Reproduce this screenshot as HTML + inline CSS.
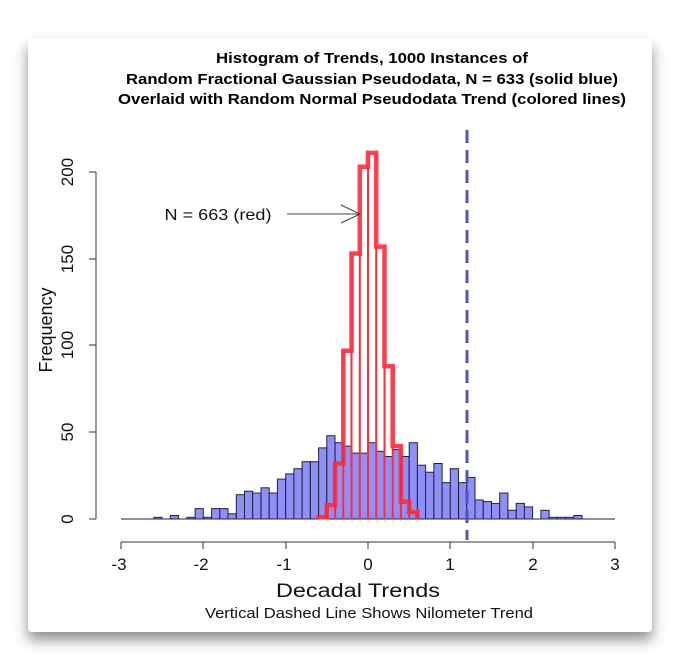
<!DOCTYPE html>
<html><head><style>
html,body{margin:0;padding:0;background:#fff;width:681px;height:667px;overflow:hidden}
</style></head><body>
<svg width="681" height="667" xmlns="http://www.w3.org/2000/svg" font-family="Liberation Sans, Arial, sans-serif">
<defs>
<filter id="sh" x="-10%" y="-10%" width="120%" height="125%">
<feDropShadow dx="0" dy="8" stdDeviation="7" flood-color="#000" flood-opacity="0.45"/>
</filter>
</defs>
<rect x="28" y="38" width="624" height="594" rx="4" fill="#fff" filter="url(#sh)"/>
<g text-anchor="middle" font-weight="bold" font-size="15" fill="#000" lengthAdjust="spacingAndGlyphs">
<text x="372" y="63" textLength="312" lengthAdjust="spacingAndGlyphs">Histogram of Trends, 1000 Instances of</text>
<text x="372" y="84" textLength="492" lengthAdjust="spacingAndGlyphs">Random Fractional Gaussian Pseudodata, N = 633 (solid blue)</text>
<text x="372" y="104" textLength="508" lengthAdjust="spacingAndGlyphs">Overlaid with Random Normal Pseudodata Trend (colored lines)</text>
</g>
<line x1="121" y1="519" x2="615" y2="519" stroke="#222244" stroke-width="1"/>
<g fill="#8f8ff5" stroke="#222244" stroke-width="1">
<rect x="153.9" y="517.3" width="8.2" height="1.7"/>
<rect x="170.4" y="515.5" width="8.2" height="3.5"/>
<rect x="186.9" y="517.3" width="8.2" height="1.7"/>
<rect x="195.1" y="508.6" width="8.2" height="10.4"/>
<rect x="203.3" y="517.3" width="8.2" height="1.7"/>
<rect x="211.6" y="508.6" width="8.2" height="10.4"/>
<rect x="219.8" y="508.6" width="8.2" height="10.4"/>
<rect x="228.0" y="513.8" width="8.2" height="5.2"/>
<rect x="236.3" y="494.7" width="8.2" height="24.3"/>
<rect x="244.5" y="491.2" width="8.2" height="27.8"/>
<rect x="252.7" y="493.0" width="8.2" height="26.0"/>
<rect x="261.0" y="487.8" width="8.2" height="31.2"/>
<rect x="269.2" y="493.0" width="8.2" height="26.0"/>
<rect x="277.4" y="479.1" width="8.2" height="39.9"/>
<rect x="285.7" y="473.9" width="8.2" height="45.1"/>
<rect x="293.9" y="468.7" width="8.2" height="50.3"/>
<rect x="302.1" y="461.7" width="8.2" height="57.3"/>
<rect x="310.4" y="461.7" width="8.2" height="57.3"/>
<rect x="318.6" y="447.9" width="8.2" height="71.1"/>
<rect x="326.8" y="435.7" width="8.2" height="83.3"/>
<rect x="335.1" y="442.7" width="8.2" height="76.3"/>
<rect x="343.3" y="446.1" width="8.2" height="72.9"/>
<rect x="351.5" y="453.1" width="8.2" height="65.9"/>
<rect x="359.8" y="453.1" width="8.2" height="65.9"/>
<rect x="368.0" y="442.7" width="8.2" height="76.3"/>
<rect x="376.2" y="451.3" width="8.2" height="67.7"/>
<rect x="384.5" y="456.5" width="8.2" height="62.5"/>
<rect x="392.7" y="449.6" width="8.2" height="69.4"/>
<rect x="400.9" y="456.5" width="8.2" height="62.5"/>
<rect x="409.2" y="442.7" width="8.2" height="76.3"/>
<rect x="417.4" y="465.2" width="8.2" height="53.8"/>
<rect x="425.6" y="472.2" width="8.2" height="46.8"/>
<rect x="433.9" y="463.5" width="8.2" height="55.5"/>
<rect x="442.1" y="482.6" width="8.2" height="36.4"/>
<rect x="450.3" y="468.7" width="8.2" height="50.3"/>
<rect x="458.6" y="482.6" width="8.2" height="36.4"/>
<rect x="466.8" y="477.4" width="8.2" height="41.6"/>
<rect x="475.0" y="499.9" width="8.2" height="19.1"/>
<rect x="483.3" y="501.6" width="8.2" height="17.4"/>
<rect x="491.5" y="503.4" width="8.2" height="15.6"/>
<rect x="499.7" y="493.0" width="8.2" height="26.0"/>
<rect x="508.0" y="510.3" width="8.2" height="8.7"/>
<rect x="516.2" y="503.4" width="8.2" height="15.6"/>
<rect x="524.4" y="506.9" width="8.2" height="12.1"/>
<rect x="540.9" y="510.3" width="8.2" height="8.7"/>
<rect x="549.1" y="517.3" width="8.2" height="1.7"/>
<rect x="557.4" y="517.3" width="8.2" height="1.7"/>
<rect x="565.6" y="517.3" width="8.2" height="1.7"/>
<rect x="573.8" y="515.5" width="8.2" height="3.5"/>
</g>
<g stroke="#ff2a3a" stroke-width="2">
<line x1="326.8" y1="519" x2="326.8" y2="517.3"/>
<line x1="335.1" y1="519" x2="335.1" y2="505.1"/>
<line x1="343.3" y1="519" x2="343.3" y2="463.5"/>
<line x1="351.5" y1="519" x2="351.5" y2="350.7"/>
<line x1="359.8" y1="519" x2="359.8" y2="253.5"/>
<line x1="368.0" y1="519" x2="368.0" y2="166.8"/>
<line x1="376.2" y1="519" x2="376.2" y2="246.6"/>
<line x1="384.5" y1="519" x2="384.5" y2="366.3"/>
<line x1="392.7" y1="519" x2="392.7" y2="446.1"/>
<line x1="400.9" y1="519" x2="400.9" y2="501.7"/>
<line x1="409.2" y1="519" x2="409.2" y2="512.1"/>
</g>
<polyline fill="none" stroke="#ff2a3a" stroke-opacity="0.9" stroke-width="4.5" points="318.6,519 318.6,517.3 326.8,517.3 326.8,505.1 335.1,505.1 335.1,463.5 343.3,463.5 343.3,350.7 351.5,350.7 351.5,253.5 359.8,253.5 359.8,166.8 368,166.8 368,152.9 376.2,152.9 376.2,246.6 384.5,246.6 384.5,366.3 392.7,366.3 392.7,446.1 400.9,446.1 400.9,501.7 409.2,501.7 409.2,512.1 417.4,512.1 417.4,519"/>
<line x1="467" y1="130" x2="467" y2="540" stroke="#5252b8" stroke-width="3" stroke-dasharray="13,7"/>
<g stroke="#333" stroke-width="1" fill="none">
<line x1="96" y1="172" x2="96" y2="519"/>
<line x1="89" y1="519" x2="96" y2="519"/>
<line x1="89" y1="432" x2="96" y2="432"/>
<line x1="89" y1="345" x2="96" y2="345"/>
<line x1="89" y1="259" x2="96" y2="259"/>
<line x1="89" y1="172" x2="96" y2="172"/>
<line x1="121" y1="542" x2="615" y2="542"/>
<line x1="121" y1="542" x2="121" y2="549"/>
<line x1="203" y1="542" x2="203" y2="549"/>
<line x1="286" y1="542" x2="286" y2="549"/>
<line x1="368" y1="542" x2="368" y2="549"/>
<line x1="450" y1="542" x2="450" y2="549"/>
<line x1="533" y1="542" x2="533" y2="549"/>
<line x1="615" y1="542" x2="615" y2="549"/>
</g>
<g font-size="17" fill="#111" text-anchor="middle">
<text transform="translate(73,519) rotate(-90)">0</text>
<text transform="translate(73,432) rotate(-90)">50</text>
<text transform="translate(73,345) rotate(-90)">100</text>
<text transform="translate(73,259) rotate(-90)">150</text>
<text transform="translate(73,172) rotate(-90)">200</text>
<text transform="translate(52,330) rotate(-90)" font-size="18">Frequency</text>
<text x="119" y="570">-3</text>
<text x="201" y="570">-2</text>
<text x="284" y="570">-1</text>
<text x="368" y="570">0</text>
<text x="450" y="570">1</text>
<text x="533" y="570">2</text>
<text x="615" y="570">3</text>
<text x="358" y="597" font-size="19" textLength="164" lengthAdjust="spacingAndGlyphs">Decadal Trends</text>
<text x="369" y="618" font-size="15" textLength="328" lengthAdjust="spacingAndGlyphs">Vertical Dashed Line Shows Nilometer Trend</text>
<text x="218" y="220" font-size="16" textLength="107" lengthAdjust="spacingAndGlyphs">N = 663 (red)</text>
</g>
<g stroke="#444" stroke-width="1" fill="none">
<line x1="287" y1="214" x2="360" y2="214"/>
<polyline points="341,205 360,214 341,223"/>
</g>
</svg>
</body></html>
